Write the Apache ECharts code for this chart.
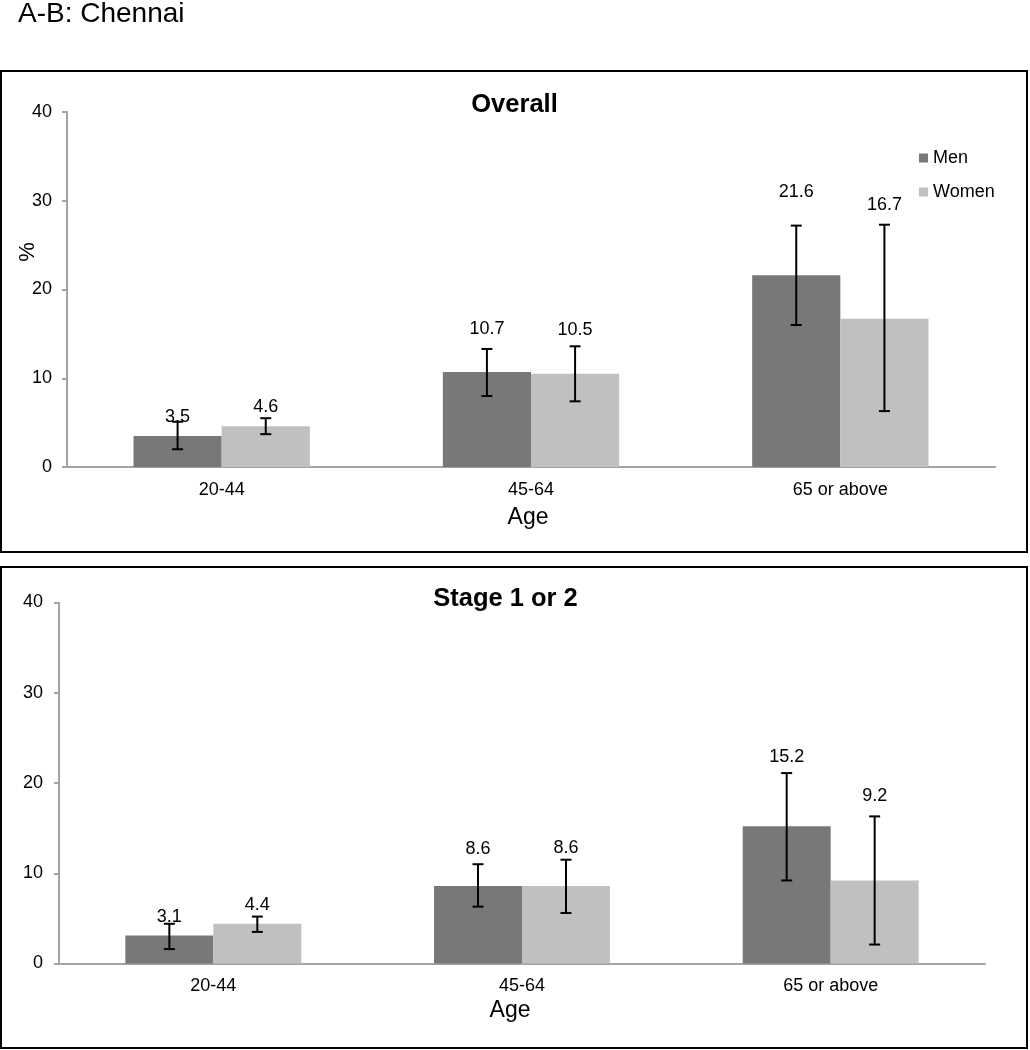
<!DOCTYPE html>
<html>
<head>
<meta charset="utf-8">
<script src="https://cdn.jsdelivr.net/npm/echarts@6/dist/echarts.min.js"></script>
<style>
html,body{margin:0;padding:0;background:#fff;}
#chart{width:1030px;height:1050px;}
</style>
</head>
<body>
<div id="chart"></div>
<script>
// ---- data ----
const categories = ['20-44', '45-64', '65 or above'];
const seriesNames = ['Men', 'Women'];
const yTickValues = [0, 10, 20, 30, 40];

const overallMen = [3.5, 10.7, 21.6];
const overallMenLow = [2.0, 8.0, 16.0];
const overallMenHigh = [5.1, 13.3, 27.2];
const overallWomen = [4.6, 10.5, 16.7];
const overallWomenLow = [3.7, 7.4, 6.3];
const overallWomenHigh = [5.5, 13.6, 27.3];

const stageMen = [3.1, 8.6, 15.2];
const stageMenLow = [1.6, 6.3, 9.2];
const stageMenHigh = [4.4, 11.0, 21.1];
const stageWomen = [4.4, 8.6, 9.2];
const stageWomenLow = [3.5, 5.6, 2.1];
const stageWomenHigh = [5.2, 11.5, 16.3];

// ---- styling / layout ----
const FONT = '"Liberation Sans", Arial, Helvetica, sans-serif';
const MEN_COLOR = '#787878';
const WOMEN_COLOR = '#c0c0c0';
const AXIS_COLOR = '#a3a3a3';
const GAP_FRAC = 0.43;
// label lift (px above the error bar top) per panel / series / category
const labelLift = [
  [[5, 20, 34], [11, 16, 20]],
  [[7, 15, 16], [12, 12, 20]]
];

const chart = echarts.init(document.getElementById('chart'), null, {renderer: 'canvas'});

function barSeries(name, data, gridIdx, color) {
  return {
    name: name, type: 'bar', xAxisIndex: gridIdx, yAxisIndex: gridIdx,
    data: data, barGap: '0%', barCategoryGap: (GAP_FRAC * 100) + '%',
    itemStyle: {color: color}, silent: true, z: 2
  };
}

function errSeries(name, vals, lows, highs, gridIdx, side) {
  return {
    name: name + ' CI', type: 'custom', xAxisIndex: gridIdx, yAxisIndex: gridIdx,
    data: vals.map((v, i) => [i, lows[i], highs[i], v]),
    silent: true, z: 5,
    renderItem: function (params, api) {
      const ci = api.value(0);
      const lo = api.coord([ci, api.value(1)]);
      const hi = api.coord([ci, api.value(2)]);
      const band = api.size([1, 0])[0];
      const bw = band * (1 - GAP_FRAC) / 2;
      const x = lo[0] + side * bw / 2;
      const cap = 5.5;
      const st = {stroke: '#000', lineWidth: 2};
      const lift = labelLift[gridIdx][side < 0 ? 0 : 1][ci];
      return {
        type: 'group',
        children: [
          {type: 'line', shape: {x1: x, y1: lo[1], x2: x, y2: hi[1]}, style: st},
          {type: 'line', shape: {x1: x - cap, y1: lo[1], x2: x + cap, y2: lo[1]}, style: st},
          {type: 'line', shape: {x1: x - cap, y1: hi[1], x2: x + cap, y2: hi[1]}, style: st},
          {type: 'text', x: x, y: hi[1] - lift,
           style: {text: api.value(3).toFixed(1), fill: '#000', font: '18px ' + FONT,
                   align: 'center', verticalAlign: 'middle'}}
        ]
      };
    }
  };
}

function yAxisCfg(gridIdx, margin) {
  return {
    type: 'value', gridIndex: gridIdx, min: yTickValues[0], max: yTickValues[yTickValues.length - 1],
    interval: yTickValues[1] - yTickValues[0],
    axisLine: {show: true, lineStyle: {color: AXIS_COLOR, width: 2}},
    axisTick: {show: true, length: 5, lineStyle: {color: AXIS_COLOR, width: 2}},
    axisLabel: {fontSize: 18, color: '#000', fontFamily: FONT, margin: margin},
    splitLine: {show: false}
  };
}

function xAxisCfg(gridIdx) {
  return {
    type: 'category', gridIndex: gridIdx, data: categories,
    axisLine: {show: true, lineStyle: {color: AXIS_COLOR, width: 2}},
    axisTick: {show: false},
    axisLabel: {fontSize: 18, color: '#000', fontFamily: FONT, margin: 14}
  };
}

const option = {
  animation: false,
  backgroundColor: '#fff',
  textStyle: {fontFamily: FONT},
  grid: [
    {left: 67, right: 35, top: 112, height: 355},
    {left: 59, right: 45, top: 602.5, height: 361}
  ],
  xAxis: [xAxisCfg(0), xAxisCfg(1)],
  yAxis: [yAxisCfg(0, 15), yAxisCfg(1, 16)],
  legend: {
    data: seriesNames, orient: 'vertical', left: 914, top: 143,
    icon: 'rect', itemWidth: 9, itemHeight: 9, itemGap: 14,
    textStyle: {fontSize: 18, color: '#000', fontFamily: FONT, lineHeight: 20},
    selectedMode: false
  },
  series: [
    barSeries('Men', overallMen, 0, MEN_COLOR),
    barSeries('Women', overallWomen, 0, WOMEN_COLOR),
    barSeries('Men', stageMen, 1, MEN_COLOR),
    barSeries('Women', stageWomen, 1, WOMEN_COLOR),
    errSeries('Men', overallMen, overallMenLow, overallMenHigh, 0, -1),
    errSeries('Women', overallWomen, overallWomenLow, overallWomenHigh, 0, 1),
    errSeries('Men', stageMen, stageMenLow, stageMenHigh, 1, -1),
    errSeries('Women', stageWomen, stageWomenLow, stageWomenHigh, 1, 1)
  ],
  graphic: [
    {type: 'rect', shape: {x: 1, y: 71, width: 1026, height: 481},
     style: {fill: null, stroke: '#000', lineWidth: 2}, z: 0, silent: true},
    {type: 'rect', shape: {x: 1, y: 567, width: 1026, height: 481},
     style: {fill: null, stroke: '#000', lineWidth: 2}, z: 0, silent: true},
    {type: 'text', x: 18, y: 14,
     style: {text: 'A-B: Chennai', font: '28px ' + FONT, fill: '#000', verticalAlign: 'middle'}},
    {type: 'text', x: 514.5, y: 105,
     style: {text: 'Overall', font: 'bold 25.5px ' + FONT, fill: '#000', align: 'center', verticalAlign: 'middle'}},
    {type: 'text', x: 505.5, y: 599,
     style: {text: 'Stage 1 or 2', font: 'bold 25.5px ' + FONT, fill: '#000', align: 'center', verticalAlign: 'middle'}},
    {type: 'text', x: 528, y: 518,
     style: {text: 'Age', font: '23px ' + FONT, fill: '#000', align: 'center', verticalAlign: 'middle'}},
    {type: 'text', x: 510, y: 1011,
     style: {text: 'Age', font: '23px ' + FONT, fill: '#000', align: 'center', verticalAlign: 'middle'}},
    {type: 'text', x: 28, y: 252, rotation: Math.PI / 2,
     style: {text: '%', font: '22px ' + FONT, fill: '#000', align: 'center', verticalAlign: 'middle'}}
  ]
};

chart.setOption(option);
</script>
</body>
</html>
